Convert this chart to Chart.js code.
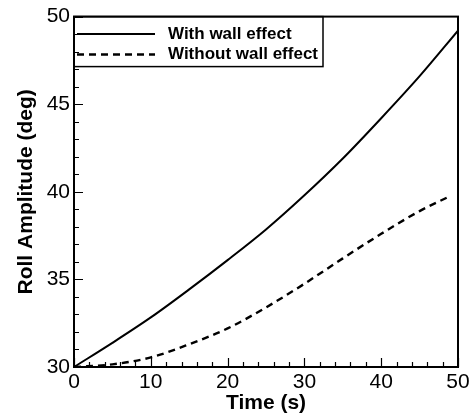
<!DOCTYPE html>
<html>
<head>
<meta charset="utf-8">
<script src="https://cdn.jsdelivr.net/npm/chart.js@4.4.1/dist/chart.umd.min.js"></script>
<style>
  html, body { margin: 0; padding: 0; background: #fff; }
  #rollChart { display: block; }
</style>
</head>
<body>
<canvas id="rollChart" width="474" height="418"></canvas>
<script>
// values
const timeWall = [0, 5, 10, 15, 20, 25, 30, 35, 40, 45, 50];
const ampWall = [30, 31.38, 32.83, 34.43, 36.1, 37.85, 39.8, 41.9, 44.2, 46.6, 49.2];

const timeNoWall = [0, 5, 10, 15, 20, 25, 30, 35, 40, 45, 48.7];
const ampNoWall = [30, 30.15, 30.55, 31.3, 32.2, 33.4, 34.75, 36.2, 37.6, 38.9, 39.7];

const xTicks = [0, 10, 20, 30, 40, 50];
const yTicks = [30, 35, 40, 45, 50];

const seriesNames = ['With wall effect', 'Without wall effect'];

const FONT = "'Liberation Sans', Arial, Helvetica, sans-serif";

function toPoints(xs, ys) {
    return xs.map((x, i) => ({ x: x, y: ys[i] }));
}

// frame + inward major/minor ticks
const frameTicks = {
    id: 'frameTicks',
    afterDatasetsDraw(chart) {
        const ctx = chart.ctx;
        const a = chart.chartArea;
        const xs = chart.scales.x;
        const ys = chart.scales.y;
        ctx.save();
        ctx.strokeStyle = '#000';
        ctx.lineWidth = 1.2;
        ctx.beginPath();
        for (let v = 30; v <= 50; v += 1) {
            const py = Math.round(ys.getPixelForValue(v)) + 0.5;
            const len = v % 5 === 0 ? 9 : 5;
            ctx.moveTo(a.left, py);
            ctx.lineTo(a.left + len, py);
        }
        for (let v = 0; v <= 50; v += 2) {
            const px = Math.round(xs.getPixelForValue(v)) + 0.5;
            const len = v % 10 === 0 ? 9 : 5;
            ctx.moveTo(px, a.bottom);
            ctx.lineTo(px, a.bottom - len);
        }
        ctx.stroke();
        ctx.lineWidth = 2;
        ctx.strokeRect(a.left, a.top, a.right - a.left, a.bottom - a.top);
        ctx.restore();
    }
};

// legend box in the upper left corner
const boxLegend = {
    id: 'boxLegend',
    afterDraw(chart) {
        const ctx = chart.ctx;
        const a = chart.chartArea;
        const ds = chart.data.datasets;
        ctx.save();
        ctx.strokeStyle = '#000';
        ctx.lineWidth = 1.5;
        ctx.strokeRect(a.left, a.top, 249, 50);
        const rows = [34, 54.5];
        ds.forEach((d, i) => {
            ctx.lineWidth = d.borderWidth;
            ctx.setLineDash(d.borderDash || []);
            ctx.beginPath();
            ctx.moveTo(a.left + 3, rows[i]);
            ctx.lineTo(a.left + 81, rows[i]);
            ctx.stroke();
            ctx.setLineDash([]);
            ctx.fillStyle = '#000';
            ctx.font = 'bold 17px ' + FONT;
            ctx.textBaseline = 'middle';
            ctx.textAlign = 'left';
            ctx.fillText(d.label, a.left + 94, rows[i]);
        });
        ctx.restore();
    }
};

new Chart(document.getElementById('rollChart'), {
    type: 'line',
    data: {
        datasets: [{
            label: seriesNames[0],
            data: toPoints(timeWall, ampWall),
            borderColor: '#000',
            borderWidth: 2,
            pointRadius: 0,
            cubicInterpolationMode: 'monotone',
            fill: false,
        }, {
            label: seriesNames[1],
            data: toPoints(timeNoWall, ampNoWall),
            borderColor: '#000',
            borderWidth: 2.4,
            borderDash: [7, 5],
            pointRadius: 0,
            cubicInterpolationMode: 'monotone',
            fill: false,
        }]
    },
    options: {
        responsive: false,
        animation: false,
        events: [],
        layout: { padding: { top: 16, right: 16, left: 0, bottom: 0 } },
        plugins: {
            legend: { display: false },
            tooltip: { enabled: false }
        },
        scales: {
            x: {
                type: 'linear',
                min: 0,
                max: 50,
                afterBuildTicks: (s) => { s.ticks = xTicks.map(v => ({ value: v })); },
                afterFit: (s) => { s.height = 51; },
                grid: { display: false, drawTicks: false },
                border: { display: false },
                ticks: { color: '#000', padding: 3, font: { family: FONT, size: 21 } },
                title: {
                    display: true,
                    text: 'Time (s)',
                    color: '#000',
                    padding: { top: 0, bottom: 2 },
                    font: { family: FONT, size: 21, weight: 'bold' }
                }
            },
            y: {
                min: 30,
                max: 50,
                afterBuildTicks: (s) => { s.ticks = yTicks.map(v => ({ value: v })); },
                afterFit: (s) => { s.width = 74; },
                grid: { display: false, drawTicks: false },
                border: { display: false },
                ticks: { color: '#000', padding: 4, font: { family: FONT, size: 21 } },
                title: {
                    display: true,
                    text: 'Roll Amplitude (deg)',
                    color: '#000',
                    padding: { top: 14, bottom: 0 },
                    font: { family: FONT, size: 21, weight: 'bold' }
                }
            }
        }
    },
    plugins: [frameTicks, boxLegend]
});
</script>
</body>
</html>
